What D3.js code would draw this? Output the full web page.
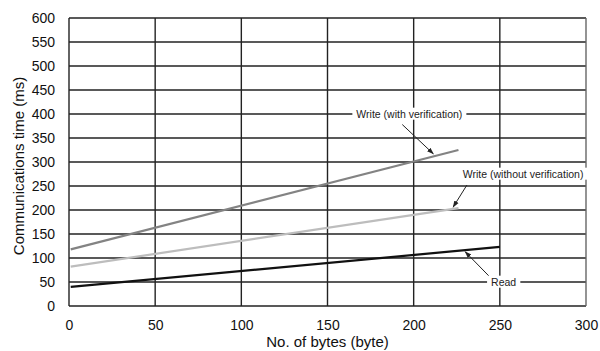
<!DOCTYPE html>
<html><head><meta charset="utf-8">
<script src="https://cdn.jsdelivr.net/npm/d3@7"></script>
<style>body{margin:0;background:#fff}svg{display:block;font-family:"Liberation Sans",Arial,sans-serif}</style>
</head><body><svg id="c" width="600" height="351"></svg>
<script>
const xTicks = [0, 50, 100, 150, 200, 250, 300];
const yTicks = [0, 50, 100, 150, 200, 250, 300, 350, 400, 450, 500, 550, 600];
const seriesNames = ["Write (with verification)", "Write (without verification)", "Read"];
const seriesColors = ["#838383", "#bdbdbd", "#111111"];
const writeWithX = [1, 226];
const writeWithY = [118, 325];
const writeWithoutX = [1, 226];
const writeWithoutY = [82, 204];
const readX = [1, 250];
const readY = [40, 123];
// annotation: label centre (data units), arrow start and tip (data units)
const labelPos = [[197.5, 400], [263.5, 275], [252.2, 50]];
const arrowStart = [[193.4, 378], [230.9, 252], [243.8, 62]];
const arrowTip = [[211.4, 317], [222.9, 206], [229.9, 113]];

const svg = d3.select("#c");
const m = {l: 69, r: 14, t: 18, b: 45};
const W = 600, H = 351;
const x = d3.scaleLinear().domain([0, 300]).range([m.l, W - m.r]);
const y = d3.scaleLinear().domain([0, 600]).range([H - m.b, m.t]);

svg.append("defs").append("marker").attr("id", "ah").attr("viewBox", "0 0 10 10")
  .attr("refX", 9).attr("refY", 5).attr("markerWidth", 7).attr("markerHeight", 7)
  .attr("orient", "auto").append("path").attr("d", "M0,1.5L10,5L0,8.5Z").attr("fill", "#222");

const g = svg.append("g");
g.selectAll(".hg").data(yTicks).enter().append("line")
  .attr("x1", x(0)).attr("x2", x(300)).attr("y1", d => y(d)).attr("y2", d => y(d))
  .attr("stroke", "#222").attr("stroke-width", 1.4);
g.selectAll(".vg").data(xTicks).enter().append("line")
  .attr("y1", y(0)).attr("y2", y(600)).attr("x1", d => x(d)).attr("x2", d => x(d))
  .attr("stroke", d => d === 300 ? "#666" : "#222").attr("stroke-width", 1.4);

const yAxis = svg.append("g").attr("transform", `translate(${m.l},0)`)
  .call(d3.axisLeft(y).tickValues(yTicks).tickSize(0).tickPadding(14));
yAxis.select(".domain").remove();
yAxis.selectAll("text").attr("font-size", 14).attr("fill", "#111").attr("font-family", "Liberation Sans, Arial, sans-serif");

const xAxis = svg.append("g").attr("transform", `translate(0,${H - m.b})`)
  .call(d3.axisBottom(x).tickValues(xTicks).tickSize(0).tickPadding(14));
xAxis.select(".domain").remove();
xAxis.selectAll("text").attr("font-size", 14).attr("fill", "#111").attr("font-family", "Liberation Sans, Arial, sans-serif");

const series = [[writeWithX, writeWithY], [writeWithoutX, writeWithoutY], [readX, readY]];
const line = d3.line().x(d => x(d[0])).y(d => y(d[1]));
series.forEach((s, i) => {
  const pts = s[0].map((v, j) => [v, s[1][j]]);
  svg.append("path").attr("d", line(pts)).attr("fill", "none")
    .attr("stroke", seriesColors[i]).attr("stroke-width", 2.2);
});

seriesNames.forEach((n, i) => {
  const ag = svg.append("g");
  ag.append("line").attr("x1", x(arrowStart[i][0])).attr("y1", y(arrowStart[i][1]))
    .attr("x2", x(arrowTip[i][0])).attr("y2", y(arrowTip[i][1]))
    .attr("stroke", "#222").attr("stroke-width", 1).attr("marker-end", "url(#ah)");
  const bgr = ag.append("rect").attr("fill", "#fff");
  const t = ag.append("text").attr("x", x(labelPos[i][0])).attr("y", y(labelPos[i][1]))
    .attr("dy", "0.35em").attr("text-anchor", "middle").attr("font-size", 10.5).attr("fill", "#222").text(n);
  const bb = t.node().getBBox();
  bgr.attr("x", bb.x - 4).attr("y", bb.y).attr("width", bb.width + 8).attr("height", bb.height);
});

svg.append("text").attr("x", (x(0) + x(300)) / 2).attr("y", 347).attr("text-anchor", "middle")
  .attr("font-size", 15).attr("fill", "#111").text("No. of bytes (byte)");
svg.append("text").attr("transform", `translate(24,166) rotate(-90)`)
  .attr("text-anchor", "middle").attr("font-size", 15).attr("fill", "#111").text("Communications time (ms)");
</script></body></html>
